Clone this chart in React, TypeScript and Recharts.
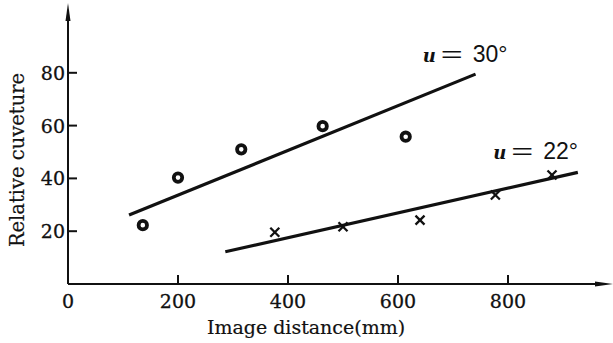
import React from 'react';
import { ComposedChart, XAxis, YAxis, Scatter, ReferenceDot } from 'recharts';

const xTicks = [0, 200, 400, 600, 800];
const yTicks = [20, 40, 60, 80];

const circles30 = [
  { x: 136, y: 22.3 },
  { x: 200, y: 40.3 },
  { x: 315, y: 51.0 },
  { x: 463, y: 59.8 },
  { x: 614, y: 55.8 },
];
const fit30 = [
  { x: 111, y: 26.1 },
  { x: 741, y: 79.5 },
];
const crosses22 = [
  { x: 376, y: 19.6 },
  { x: 500, y: 21.7 },
  { x: 640, y: 24.2 },
  { x: 777, y: 33.7 },
  { x: 880, y: 41.3 },
];
const fit22 = [
  { x: 286, y: 12.2 },
  { x: 927, y: 42.3 },
];
const seriesLabels = [
  { x: 645, y: 84, angle: '30°' },
  { x: 773, y: 47.3, angle: '22°' },
];

const SERIF = '"DejaVu Serif", "Liberation Serif", serif';
const SANS = '"Liberation Sans", Arial, sans-serif';
const INK = '#111';

const YTick = (props: any) => {
  const { x, y, payload } = props;
  return (
    <g>
      <line x1={x} y1={y} x2={x + 9} y2={y} stroke={INK} strokeWidth={2} />
      <text x={x - 3} y={y + 7} textAnchor="end" fontFamily={SERIF} fontSize={19} fill={INK} stroke={INK} strokeWidth={0.3}>
        {payload.value}
      </text>
    </g>
  );
};

const XTick = (props: any) => {
  const { x, y, payload } = props;
  return (
    <g>
      {payload.value !== 0 && <line x1={x} y1={y} x2={x} y2={y - 9} stroke={INK} strokeWidth={2} />}
      <text x={x} y={y + 24} textAnchor="middle" fontFamily={SERIF} fontSize={19} fill={INK} stroke={INK} strokeWidth={0.3}>
        {payload.value}
      </text>
    </g>
  );
};

const CircleMark = (props: any) => (
  <circle cx={props.cx} cy={props.cy} r={4.2} fill="none" stroke={INK} strokeWidth={3.8} />
);
const CrossMark = (props: any) => {
  const { cx, cy } = props;
  const s = 4.5;
  return (
    <g stroke={INK} strokeWidth={2.3}>
      <line x1={cx - s} y1={cy - s} x2={cx + s} y2={cy + s} />
      <line x1={cx - s} y1={cy + s} x2={cx + s} y2={cy - s} />
    </g>
  );
};
const NoMark = () => null;

const makeSeriesLabel = (angle: string) => (props: any) => {
  const { viewBox } = props;
  const x = viewBox.x + viewBox.width / 2;
  const y = viewBox.y + viewBox.height / 2;
  return (
    <g>
      <text x={x} y={y} fontFamily={SERIF} fontStyle="italic" fontWeight="bold" fontSize={18} fill={INK}>u</text>
      <text x={x + 18} y={y} fontFamily={SANS} fontSize={22} fill={INK} textLength={22} lengthAdjust="spacingAndGlyphs">=</text>
      <text x={x + 50} y={y} fontFamily={SANS} fontSize={23} fill={INK}>{angle}</text>
    </g>
  );
};

const XTitle = (props: any) => {
  const { viewBox } = props;
  return (
    <text x={viewBox.x + 238} y={334} textAnchor="middle" fontFamily={SERIF} fontSize={19} fill={INK} stroke={INK} strokeWidth={0.2}>
      Image distance(mm)
    </text>
  );
};

const YTitle = () => {
  return (
    <text x={24} y={160} textAnchor="middle" transform="rotate(-90 24 160)" fontFamily={SERIF} fontSize={19.5} fill={INK} stroke={INK} strokeWidth={0.2}>
      Relative cuveture
    </text>
  );
};

export default function App() {
  return (
    <div style={{ position: 'absolute', left: 0, top: 0, width: 613, height: 343, background: '#fff' }}>
      <svg width={0} height={0} style={{ position: 'absolute' }}>
        <defs>
          <marker id="arrowHead" markerUnits="userSpaceOnUse" markerWidth={18} markerHeight={8} refX={1} refY={4} orient="auto-start-reverse">
            <path d="M0,1.5 L18,4 L0,6.5 Z" fill={INK} />
          </marker>
        </defs>
      </svg>
      <ComposedChart width={613} height={343} margin={{ top: 20, right: 17, bottom: 0, left: 0 }}>
        <XAxis
          type="number"
          dataKey="x"
          domain={[0, 960]}
          ticks={xTicks}
          allowDataOverflow
          height={59}
          tickSize={0}
          tickMargin={0}
          tick={XTick}
          axisLine={{ stroke: INK, strokeWidth: 2, markerEnd: 'url(#arrowHead)' } as any}
          label={<XTitle />}
        />
        <YAxis
          type="number"
          dataKey="y"
          domain={[0, 100]}
          ticks={yTicks}
          allowDataOverflow
          width={68}
          tickSize={0}
          tickMargin={0}
          tick={YTick}
          axisLine={{ stroke: INK, strokeWidth: 2, markerStart: 'url(#arrowHead)' } as any}
          label={<YTitle />}
        />
        <Scatter data={fit30} shape={NoMark} line={{ stroke: INK, strokeWidth: 3.2 }} isAnimationActive={false} />
        <Scatter data={fit22} shape={NoMark} line={{ stroke: INK, strokeWidth: 3.2 }} isAnimationActive={false} />
        <Scatter data={circles30} shape={CircleMark} isAnimationActive={false} />
        <Scatter data={crosses22} shape={CrossMark} isAnimationActive={false} />
        {seriesLabels.map((l) => (
          <ReferenceDot key={l.angle} x={l.x} y={l.y} r={0} fill="none" stroke="none" label={makeSeriesLabel(l.angle)} />
        ))}
      </ComposedChart>
    </div>
  );
}
